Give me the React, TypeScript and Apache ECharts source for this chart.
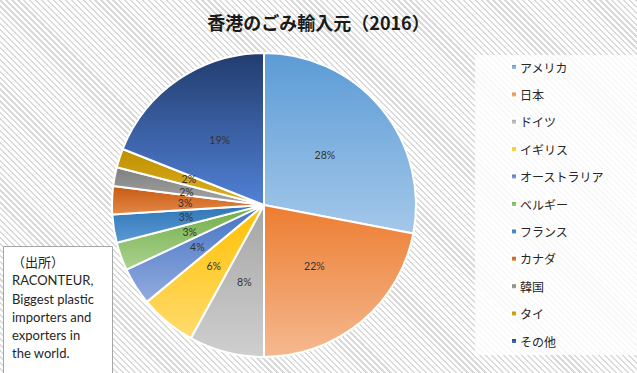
import React, { useEffect, useRef } from "react";
import * as echarts from "echarts";

const titleText = "香港のごみ輸入元（2016）";
const categories = ["アメリカ", "日本", "ドイツ", "イギリス", "オーストラリア", "ベルギー", "フランス", "カナダ", "韓国", "タイ", "その他"];
const shares = [28, 22, 8, 6, 4, 3, 3, 3, 2, 2, 19];
const topColors = ["#5b9bd5", "#ed7d31", "#a5a5a5", "#ffc000", "#4472c4", "#70ad47", "#2e75b6", "#c55a11", "#7f7f7f", "#bf9000", "#223c6e"];
const bottomColors = ["#a4c8ea", "#f5b990", "#cfcfcf", "#ffdb6e", "#92acdf", "#abd290", "#5b9bd5", "#e58848", "#a6a6a6", "#ddb023", "#5181d6"];
const sourceLines = ["（出所）", "RACONTEUR,", "Biggest plastic", "importers and", "exporters in", "the world."];

export default function App() {
  const ref = useRef<HTMLDivElement>(null);
  useEffect(() => {
    if (!ref.current) return;
    const chart = echarts.init(ref.current, undefined, { renderer: "svg" });
    const data = categories.map((name, i) => ({
      name,
      value: shares[i],
      label: name === "タイ" ? { offset: [0, -1.5] } : name === "韓国" ? { offset: [0, 1.5] } : undefined,
      itemStyle: {
        color: {
          type: "linear",
          x: 0,
          y: 0,
          x2: 0,
          y2: 1,
          colorStops: [
            { offset: 0, color: topColors[i] },
            { offset: 1, color: bottomColors[i] },
          ],
        },
      },
    }));
    chart.setOption({
      animation: false,
      backgroundColor: "transparent",
      title: {
        text: titleText,
        left: "center",
        top: 8,
        textStyle: {
          fontFamily: "'Noto Sans CJK JP', sans-serif",
          fontSize: 18,
          fontWeight: "bold",
          color: "#1a1a1a",
        },
      },
      graphic: [
        {
          type: "rect",
          z: 0,
          shape: { x: 475, y: 55, width: 162, height: 300 },
          style: { fill: "rgba(255,255,255,0.8)" },
        },
        {
          type: "rect",
          z: 10,
          shape: { x: 3.5, y: 246.5, width: 109, height: 130 },
          style: { fill: "#ffffff", stroke: "#a6a6a6", lineWidth: 1 },
        },
        {
          type: "text",
          z: 11,
          x: 12,
          y: 253,
          style: {
            text: sourceLines.join("\n"),
            fontFamily: "Lato, 'Noto Sans CJK JP', sans-serif",
            fontSize: 13,
            lineHeight: 18.2,
            fill: "#262626",
          },
        },
      ],
      legend: {
        orient: "vertical",
        left: 510,
        top: 60,
        z: 5,
        icon: "rect",
        itemWidth: 6,
        itemHeight: 6,
        itemGap: 13.4,
        padding: 0,
        data: categories,
        textStyle: {
          fontFamily: "'Noto Sans CJK JP', sans-serif",
          fontSize: 12,
          lineHeight: 14,
          color: "#262626",
          padding: [0, 0, 0, -2],
        },
      },
      series: [
        {
          type: "pie",
          center: [264, 205],
          radius: [0, 152],
          startAngle: 90,
          clockwise: true,
          avoidLabelOverlap: false,
          labelLayout: { hideOverlap: false },
          data,
          itemStyle: { borderColor: "#ffffff", borderWidth: 2 },
          label: {
            show: true,
            position: "inside",
            formatter: (p: any) => `${p.value}%`,
            fontFamily: "Lato, sans-serif",
            fontSize: 10.5,
            lineHeight: 8,
            color: "#333333",
          },
          labelLine: { show: false },
          emphasis: { disabled: true },
        },
      ],
    });
    return () => chart.dispose();
  }, []);
  return (
    <div
      ref={ref}
      style={{
        position: "fixed",
        left: 0,
        top: 0,
        width: 637,
        height: 373,
        background:
          "repeating-linear-gradient(45deg, #ffffff 0px, #ffffff 2.6px, #dadada 2.6px, #dadada 4.2px)",
      }}
    />
  );
}
